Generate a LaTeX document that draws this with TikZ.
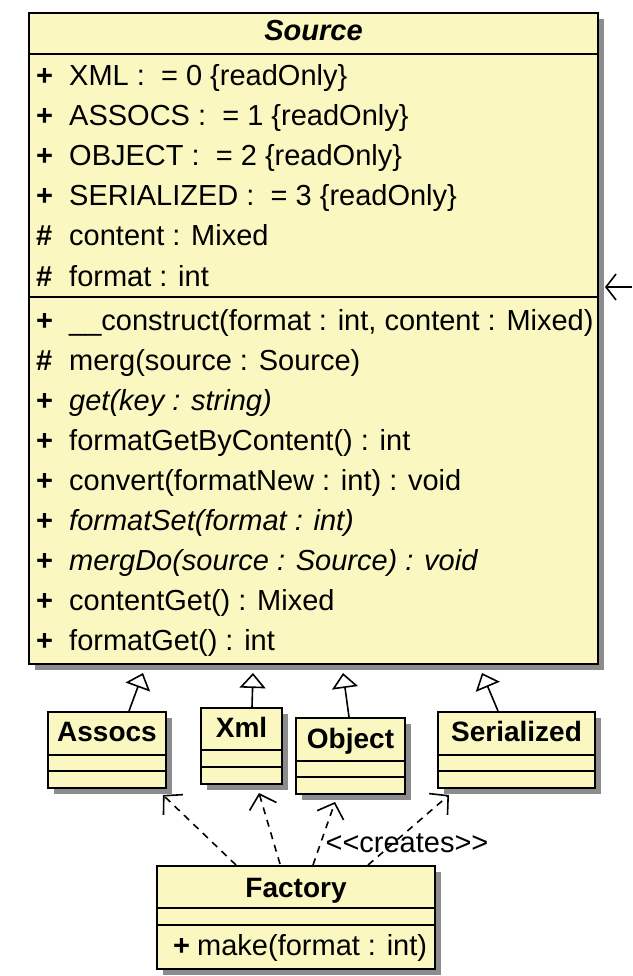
\documentclass[tikz,border=0pt]{standalone}
\usepackage{fontspec}
\setmainfont{Liberation Sans}
\usepackage{tikz}
\usetikzlibrary{arrows.meta,positioning,calc,shadows}
\definecolor{umlFill}{RGB}{250,247,192}
\definecolor{umlShadow}{RGB}{140,140,140}
\newcommand{\vis}[2][33pt]{\makebox[#1][l]{\bfseries #2}}
\tikzset{
  classbox/.style={draw=black, line width=2pt, fill=umlFill, anchor=north west, inner sep=0pt,
                   drop shadow={shadow xshift=6pt, shadow yshift=-6pt, fill=umlShadow, opacity=1}},
  classline/.style={line width=2pt},
  classname/.style={anchor=base, inner sep=0pt, font=\fontsize{28}{34}\selectfont\bfseries},
  member/.style={anchor=base west, inner sep=0pt, font=\fontsize{29}{40}\selectfont},
  stereo/.style={anchor=base, inner sep=0pt, font=\fontsize{29}{34}\selectfont},
  inherit/.style={-{Triangle[open, length=15pt, width=26pt, line width=1.6pt]}, line width=1.6pt},
  creates/.style={-{Straight Barb[length=13pt, width=28pt, line width=1.6pt]}, line width=1.6pt,
                  dash pattern=on 7pt off 6pt},
  navarrow/.style={-{Straight Barb[length=10pt, width=26pt, line width=1.6pt]}, line width=1.6pt}
}

\begin{document}
\begin{tikzpicture}[x=1pt, y=-1pt]
\useasboundingbox[fill=white] (0,0) rectangle (632,976);
% abstract base class
\node[classbox, minimum width=569pt, minimum height=651pt] (source) at (28,12) {};
\draw[classline] ([yshift=-42pt]source.north west) -- ([yshift=-42pt]source.north east);
\draw[classline] ([yshift=-285pt]source.north west) -- ([yshift=-285pt]source.north east);
\node[classname, font=\fontsize{29}{34}\selectfont\bfseries\itshape] (sourcename) at ($(source.north)+(0,29)$) {Source};
\node[member] (a1) at ($(source.north west)+(8,74)$) {\vis{+}XML :\ \ = 0 \{readOnly\}};
\node[member] (a2) at ([yshift=-40pt]a1.base west) {\vis{+}ASSOCS :\ \ = 1 \{readOnly\}};
\node[member] (a3) at ([yshift=-40pt]a2.base west) {\vis{+}OBJECT :\ \ = 2 \{readOnly\}};
\node[member] (a4) at ([yshift=-40pt]a3.base west) {\vis{+}SERIALIZED :\ \ = 3 \{readOnly\}};
\node[member] (a5) at ([yshift=-40pt]a4.base west) {\vis{\#}content : Mixed};
\node[member] (a6) at ([yshift=-40pt]a5.base west) {\vis{\#}format : int};
\node[member] (m1) at ([yshift=-44pt]a6.base west) {\vis{+}\_\_construct(format : int, content : Mixed)};
\node[member] (m2) at ([yshift=-40pt]m1.base west) {\vis{\#}merg(source : Source)};
\node[member] (m3) at ([yshift=-40pt]m2.base west) {\vis{+}\textit{get(key : string)}};
\node[member] (m4) at ([yshift=-40pt]m3.base west) {\vis{+}formatGetByContent() : int};
\node[member] (m5) at ([yshift=-40pt]m4.base west) {\vis{+}convert(formatNew : int) : void};
\node[member] (m6) at ([yshift=-40pt]m5.base west) {\vis{+}\textit{formatSet(format : int)}};
\node[member] (m7) at ([yshift=-40pt]m6.base west) {\vis{+}\textit{mergDo(source : Source) : void}};
\node[member] (m8) at ([yshift=-40pt]m7.base west) {\vis{+}contentGet() : Mixed};
\node[member] (m9) at ([yshift=-40pt]m8.base west) {\vis{+}formatGet() : int};
% subclasses
\node[classbox, minimum width=118pt, minimum height=76pt] (assocs) at (47,711) {};
\node[classbox, minimum width=81pt, minimum height=76pt] (xml) at (200,707) {};
\node[classbox, minimum width=109pt, minimum height=76pt] (object) at (295,717) {};
\node[classbox, minimum width=157pt, minimum height=76pt] (serialized) at (437,711) {};
\draw[classline] ([yshift=-44pt]assocs.north west) -- ([yshift=-44pt]assocs.north east);
\draw[classline] ([yshift=-60pt]assocs.north west) -- ([yshift=-60pt]assocs.north east);
\draw[classline] ([yshift=-43pt]xml.north west) -- ([yshift=-43pt]xml.north east);
\draw[classline] ([yshift=-60pt]xml.north west) -- ([yshift=-60pt]xml.north east);
\draw[classline] ([yshift=-44pt]object.north west) -- ([yshift=-44pt]object.north east);
\draw[classline] ([yshift=-60pt]object.north west) -- ([yshift=-60pt]object.north east);
\draw[classline] ([yshift=-44pt]serialized.north west) -- ([yshift=-44pt]serialized.north east);
\draw[classline] ([yshift=-60pt]serialized.north west) -- ([yshift=-60pt]serialized.north east);
\node[classname] (assocsname) at ($(assocs.north)+(0,30)$) {Assocs};
\node[classname] (xmlname) at ($(xml.north)+(0,30)$) {Xml};
\node[classname] (objectname) at ($(object.north)+(0,31)$) {Object};
\node[classname] (serializedname) at ($(serialized.north)+(0,30)$) {Serialized};
% factory
\node[classbox, minimum width=278pt, minimum height=103pt] (factory) at (156,865) {};
\draw[classline] ([yshift=-43pt]factory.north west) -- ([yshift=-43pt]factory.north east);
\draw[classline] ([yshift=-60pt]factory.north west) -- ([yshift=-60pt]factory.north east);
\node[classname] (factoryname) at ($(factory.north)+(0,32)$) {Factory};
\node[member] (make) at ($(factory.north west)+(17,90)$) {\vis[24pt]{+}make(format : int)};
% generalizations
\draw[inherit] ($(assocs.north)+(22,0)$) -- ($(source.south west)+(115,8)$);
\draw[inherit] ($(xml.north)+(10.5,0)$) -- ($(source.south west)+(225,8)$);
\draw[inherit] ($(object.north)+(-1.5,0)$) -- ($(source.south west)+(315,8)$);
\draw[inherit] ($(serialized.north)+(-18.5,0)$) -- ($(source.south west)+(454,8)$);
% dependencies
\draw[creates] ($(factory.north west)+(80,0)$) -- ($(assocs.south east)+(-4,6)$);
\draw[creates] ($(factory.north west)+(124,-1)$) -- ($(xml.south)+(17.5,8)$);
\draw[creates] ($(factory.north west)+(157,0)$) -- ($(object.south)+(-15.5,7)$);
\draw[creates] ($(factory.north west)+(212,0)$) -- ($(serialized.south west)+(12,6)$);
\node[stereo] (createslabel) at ($(factory.north west)+(251,-13)$) {<{}<creates>{}>};
% association end from outside
\coordinate (navend) at (632,287);
\draw[navarrow] (navend) -- ([xshift=6pt]source.east |- navend);
\end{tikzpicture}
\end{document}
